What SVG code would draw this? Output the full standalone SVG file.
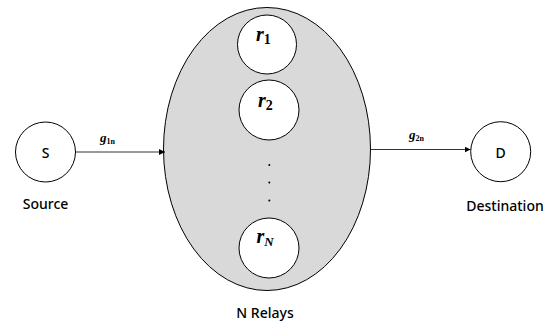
<svg xmlns="http://www.w3.org/2000/svg" width="551" height="325" viewBox="0 0 551 325">
<style>
.node{fill:#fff;stroke:#000;stroke-width:1}
.lbl{font-family:"Noto Sans","Open Sans",sans-serif;font-size:14px;font-weight:500;fill:#000;text-anchor:middle}
.math{font-family:"Liberation Serif","DejaVu Serif",serif;font-style:italic;font-weight:bold;fill:#000}
.sub{font-style:normal}
.edge{stroke:#000;stroke-width:0.8;fill:none}
</style>
<defs>
<marker id="ah" viewBox="0 0 10 10" refX="10" refY="5" markerWidth="6" markerHeight="6" orient="auto" markerUnits="userSpaceOnUse">
<path d="M0,0 L10,5 L0,10 z" fill="#000"/>
</marker>
</defs>
<rect width="551" height="325" fill="#fff"/>
<g id="relays">
<ellipse cx="267" cy="149" rx="103.5" ry="141.5" fill="#d9d9d9" stroke="#000" stroke-width="1"/>
<text class="lbl" x="265" y="318" font-size="14.5">N Relays</text>
</g>
<g id="r1">
<circle class="node" cx="267" cy="44.5" r="29.5"/>
<text class="math" x="256" y="41" font-size="20">r<tspan class="sub" font-size="14" dy="3">1</tspan></text>
</g>
<g id="r2">
<circle class="node" cx="269" cy="110" r="30"/>
<text class="math" x="258" y="107" font-size="20">r<tspan class="sub" font-size="14" dy="3">2</tspan></text>
</g>
<g id="dots" fill="#000">
<circle cx="269.3" cy="165" r="1"/>
<circle cx="269.3" cy="182.5" r="1"/>
<circle cx="269.3" cy="200.5" r="1"/>
</g>
<g id="rN">
<circle class="node" cx="269" cy="248" r="30"/>
<text class="math" x="256.5" y="243" font-size="20">r<tspan font-size="13" dy="3">N</tspan></text>
</g>
<g id="S">
<circle class="node" cx="45.5" cy="152" r="30"/>
<text class="lbl" x="45.5" y="158" font-size="16">S</text>
<text class="lbl" x="45.5" y="208.5">Source</text>
</g>
<g id="D">
<circle class="node" cx="500.7" cy="151.7" r="30"/>
<text class="lbl" x="500.7" y="157.5" font-size="16">D</text>
<text class="lbl" x="505" y="211">Destination</text>
</g>
<g id="connectors">
<line class="edge" x1="76" y1="152" x2="165" y2="152" marker-end="url(#ah)"/>
<line class="edge" x1="370.5" y1="149.5" x2="470.5" y2="149.5" marker-end="url(#ah)"/>
<text class="math" x="100" y="141.5" font-size="13">g<tspan class="sub" font-size="8" dy="2">1n</tspan></text>
<text class="math" x="409" y="139" font-size="13">g<tspan class="sub" font-size="8" dy="2">2n</tspan></text>
</g>
</svg>
